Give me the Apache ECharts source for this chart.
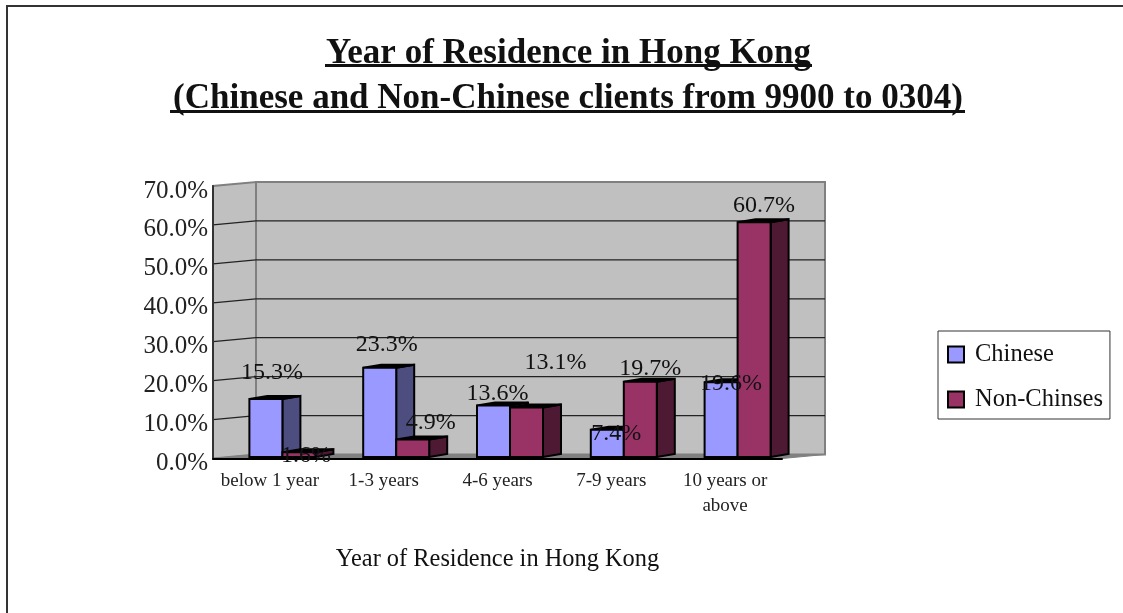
<!DOCTYPE html>
<html><head><meta charset="utf-8">
<style>html,body{margin:0;padding:0;background:#fff}#c{width:1123px;height:613px}</style>
<script src="https://cdn.jsdelivr.net/npm/echarts@6/dist/echarts.min.js"></script></head>
<body><div id="c"></div>
<script>
const categories = ['below 1 year', '1-3 years', '4-6 years', '7-9 years', '10 years or\nabove'];
const chinese = [15.3, 23.3, 13.6, 7.4, 19.6];
const nonChinese = [1.6, 4.9, 13.1, 19.7, 60.7];
const yTicks = [0, 10, 20, 30, 40, 50, 60, 70];

const chineseLabelShift = [[6,-26],[7,-23],[4,-12],[9,4],[10,2]];
const nonChineseLabelShift = [[7,3],[18,-17],[29,-45],[10,-13],[10,-17]];

const SERIF = '"Liberation Serif", serif';
const WALL_DX = 43, WALL_DY = -4, BAR_DX = 18, BAR_DY = -3, BAR_SHIFT = 12.5, BAR_LIFT = 1.5;

function poly(points, fill, stroke, width) {
  return {type:'polygon', shape:{points}, style:{fill, stroke, lineWidth:width, lineJoin:'miter'}};
}
function renderWalls(params, api) {
  const children = [];
  const n = categories.length;
  const p = (c, v) => api.coord([c, v]);
  const halfBand = api.size([1, 0])[0] / 2;
  const x0 = p(0, 0)[0] - halfBand, x1 = p(n - 1, 0)[0] + halfBand;
  const y0 = p(0, 0)[1], yTop = p(0, 70)[1];
  const bx0 = x0 + WALL_DX, bx1 = x1 + WALL_DX;
  children.push(poly([[bx0,y0+WALL_DY],[bx1,y0+WALL_DY],[bx1,yTop+WALL_DY],[bx0,yTop+WALL_DY]], '#c0c0c0', '#808080', 2));
  children.push(poly([[x0,y0],[bx0,y0+WALL_DY],[bx0,yTop+WALL_DY],[x0,yTop]], '#c0c0c0', '#808080', 2));
  children.push(poly([[x0,y0],[x1,y0],[bx1,y0+WALL_DY],[bx0,y0+WALL_DY]], '#808080', '#808080', 1));
  yTicks.forEach(t => {
    if (t === 0 || t === 70) return;
    const y = api.coord([0, t])[1];
    children.push({type:'polyline', shape:{points:[[x0,y],[bx0,y+WALL_DY],[bx1,y+WALL_DY]]}, style:{fill:null, stroke:'#222', lineWidth:1.3}});
  });
  return {type:'group', children};
}
function barGeom(seriesIndex, api) {
  const c = api.value(0), v = api.value(1);
  const w = api.size([1, 0])[0] * 0.29;
  const base = api.coord([c, 0]), top = api.coord([c, v]);
  const xl = base[0] + BAR_SHIFT + (seriesIndex === 0 ? -w : 0);
  return {v, xl, xr: xl + w, yb: base[1] - BAR_LIFT, yt: top[1]};
}
function barRenderer(seriesIndex, fill, side) {
  return function (params, api) {
    const {xl, xr, yb, yt} = barGeom(seriesIndex, api);
    return {type:'group', children:[
      poly([[xr,yb],[xr+BAR_DX,yb+BAR_DY],[xr+BAR_DX,yt+BAR_DY],[xr,yt]], side, '#000', 2),
      poly([[xl,yt],[xr,yt],[xr+BAR_DX,yt+BAR_DY],[xl+BAR_DX,yt+BAR_DY]], '#000', '#000', 2),
      poly([[xl,yb],[xr,yb],[xr,yt],[xl,yt]], fill, '#000', 2)
    ]};
  };
}
function labelRenderer(seriesIndex, shifts) {
  return function (params, api) {
    const {v, xl, xr, yt} = barGeom(seriesIndex, api);
    const sh = shifts[params.dataIndex];
    return {type:'text', style:{x:(xl+xr)/2+sh[0], y:yt+sh[1], text:v.toFixed(1)+'%', align:'center', verticalAlign:'middle',
      font:'24px '+SERIF, fill:'#111'}};
  };
}
const chart = echarts.init(document.getElementById('c'), null, {renderer:'canvas'});
chart.setOption({
  animation:false,
  backgroundColor:'#fff',
  title:[
    {text:'Year of Residence in Hong Kong', left:563.5, top:31, textAlign:'center',
      textStyle:{fontFamily:SERIF, fontSize:35, fontWeight:'bold', color:'#111'}},
    {text:'(Chinese and Non-Chinese clients from 9900 to 0304)', left:563, top:76, textAlign:'center',
      textStyle:{fontFamily:SERIF, fontSize:35, fontWeight:'bold', color:'#111'}}
  ],
  graphic:[
    {type:'rect', shape:{x:7,y:6,width:1140,height:640}, style:{fill:null, stroke:'#333', lineWidth:2}, silent:true},
    {type:'rect', shape:{x:325,y:64,width:487,height:3}, style:{fill:'#111'}, silent:true},
    {type:'rect', shape:{x:170,y:110,width:795,height:3}, style:{fill:'#111'}, silent:true}
  ],
  legend:{
    orient:'vertical', left:938, top:331,
    data:['Chinese','Non-Chinses'], icon:'rect', itemWidth:16, itemHeight:16, itemGap:20,
    padding:[11,7,7,9], borderColor:'#333', borderWidth:1, backgroundColor:'#fff',
    textStyle:{fontFamily:SERIF, fontSize:24.5, color:'#111', padding:[0,0,0,6]},
    itemStyle:{borderColor:'#000', borderWidth:2}
  },
  grid:{left:213, top:186, width:569, height:272.5},
  xAxis:{
    type:'category', data:categories, z:4,
    name:'Year of Residence in Hong Kong', nameLocation:'middle', nameGap:89,
    nameTextStyle:{fontFamily:SERIF, fontSize:24.4, color:'#111'},
    axisLine:{lineStyle:{color:'#000', width:2}},
    axisTick:{inside:true, length:3, lineStyle:{color:'#000'}},
    axisLabel:{fontFamily:SERIF, fontSize:19, color:'#222', margin:10, lineHeight:25, interval:0}
  },
  yAxis:{
    type:'value', min:0, max:70, interval:10, z:4,
    axisLine:{show:true, lineStyle:{color:'#333', width:2}},
    axisTick:{show:false},
    splitLine:{show:false},
    axisLabel:{fontFamily:SERIF, fontSize:25, color:'#222', margin:5, verticalAlign:'top', lineHeight:10, formatter:v=>v.toFixed(1)+'%'}
  },
  series:[
    {type:'custom', name:'walls', silent:true, z:1, clip:false, data:[[0,0]], encode:{x:0,y:1}, renderItem:renderWalls},
    {type:'custom', name:'Chinese', z:2, clip:false, itemStyle:{color:'#9999FF'}, encode:{x:0,y:1},
      data:chinese.map((v,i)=>[i,v]), renderItem:barRenderer(0,'#9999FF','#4D4D80')},
    {type:'custom', name:'Non-Chinses', z:3, clip:false, itemStyle:{color:'#993366'}, encode:{x:0,y:1},
      data:nonChinese.map((v,i)=>[i,v]), renderItem:barRenderer(1,'#993366','#4D1933')},
    {type:'custom', name:'Chinese labels', silent:true, z:6, clip:false, encode:{x:0,y:1},
      data:chinese.map((v,i)=>[i,v]), renderItem:labelRenderer(0,chineseLabelShift)},
    {type:'custom', name:'Non-Chinses labels', silent:true, z:6, clip:false, encode:{x:0,y:1},
      data:nonChinese.map((v,i)=>[i,v]), renderItem:labelRenderer(1,nonChineseLabelShift)}
  ]
});
</script></body></html>
